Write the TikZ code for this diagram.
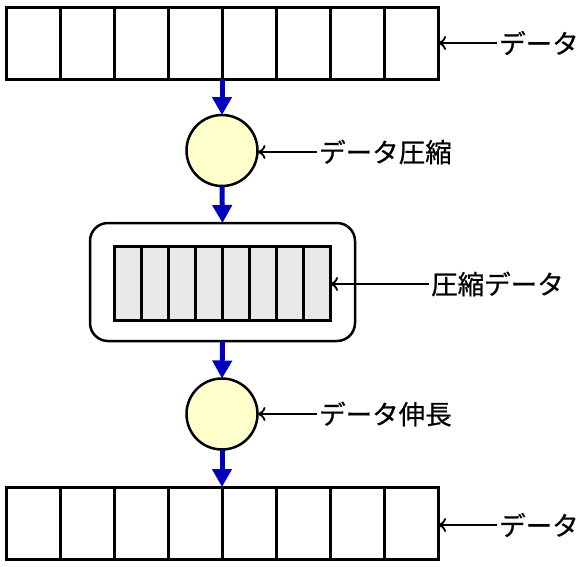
\documentclass[tikz,border=0pt]{standalone}
\usepackage{fontspec}
\newfontfamily\jpfont[FakeBold=0.6]{Noto Sans CJK JP}
\usetikzlibrary{arrows.meta}
\definecolor{flowblue}{HTML}{0000BE}
\definecolor{circfill}{HTML}{FFFFCC}
\definecolor{cellfill}{HTML}{E8E8E8}
\begin{document}
\begin{tikzpicture}[x=1pt,y=-1pt,
  arraybox/.style={draw, line width=3pt, minimum width=432pt, minimum height=72pt, inner sep=0pt, outer sep=0pt, fill=white},
  innerbox/.style={draw, line width=3pt, minimum width=216pt, minimum height=74pt, inner sep=0pt, outer sep=0pt, fill=cellfill},
  procnode/.style={draw, circle, line width=2.5pt, minimum size=71pt, inner sep=0pt, outer sep=0pt, fill=circfill},
  holder/.style={draw, line width=2.5pt, rounded corners=18pt, minimum width=265pt, minimum height=118pt, inner sep=0pt, outer sep=0pt},
  flow/.style={draw=flowblue, line width=5pt, -{Triangle[length=18pt,width=19pt]}},
  lab/.style={font=\jpfont\fontsize{26.5}{30}\selectfont, anchor=west, inner sep=2pt},
  pointer/.style={draw, line width=1.8pt, -{To[length=8pt,width=14pt]}}
]
\useasboundingbox (0,0) rectangle (579,566);
% top array
\node[arraybox] (top) at (222,43) {};
\foreach \k in {1,...,7} \draw[line width=3pt] (6+54*\k,7) -- (6+54*\k,79);
% compress
\node[procnode] (comp) at (222,150.5) {};
% holder and inner array
\node[holder] (hold) at (222.5,282) {};
\node[innerbox] (inner) at (222,283) {};
\foreach \k in {1,...,7} \draw[line width=3pt] (114+27*\k,246) -- (114+27*\k,320);
% expand
\node[procnode] (exp) at (222,414) {};
% bottom array
\node[arraybox] (bot) at (222,523) {};
\foreach \k in {1,...,7} \draw[line width=3pt] (6+54*\k,487) -- (6+54*\k,559);
% flow arrows
\draw[flow] (top.south) -- (comp.north);
\draw[flow] (comp.south) -- (hold.north);
\draw[flow] (hold.south) -- (exp.north);
\draw[flow] (exp.south) -- (bot.north);
% labels
\node[lab] (l1) at (497,43) {データ};
\node[lab] (l2) at (317,152) {データ圧縮};
\node[lab] (l3) at (429,284) {圧縮データ};
\node[lab] (l4) at (317,414) {データ伸長};
\node[lab] (l5) at (497,525) {データ};
\draw[pointer] (l1.west) -- (top.east |- l1.west);
\draw[pointer] (l2.west) -- (comp.east |- l2.west);
\draw[pointer] (l3.west) -- (inner.east |- l3.west);
\draw[pointer] (l4.west) -- (exp.east |- l4.west);
\draw[pointer] (l5.west) -- (bot.east |- l5.west);
\end{tikzpicture}
\end{document}
